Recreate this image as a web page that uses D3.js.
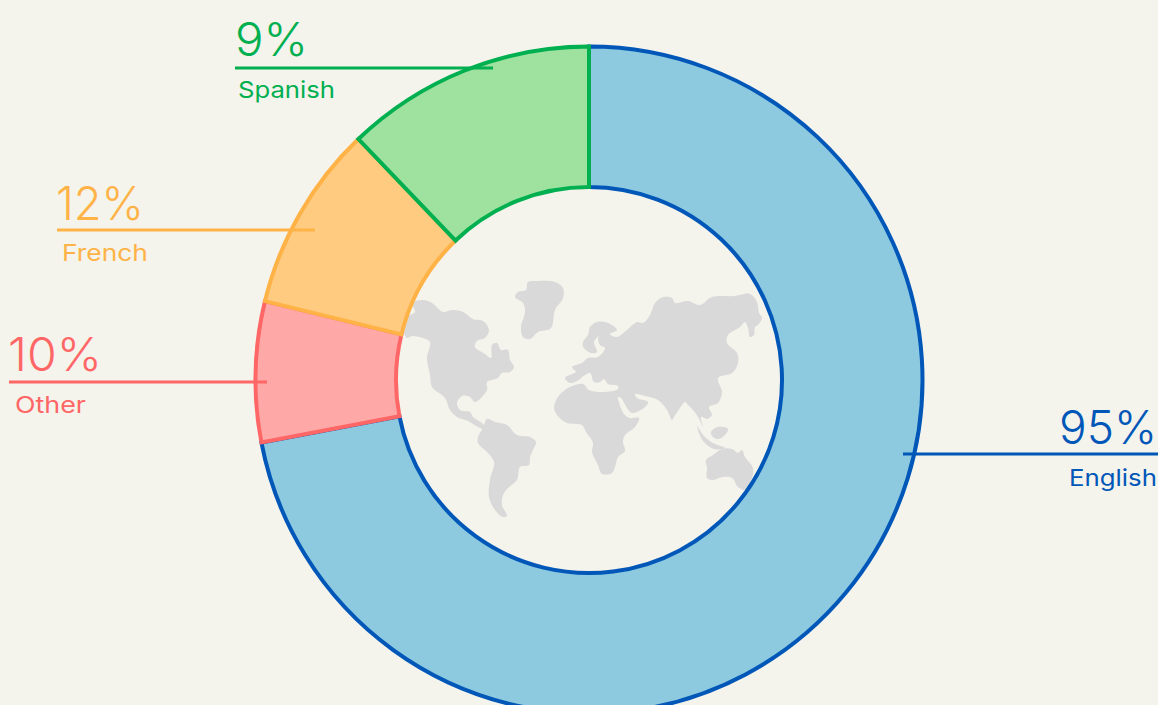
<!DOCTYPE html>
<html>
<head>
<meta charset="utf-8">
<script src="https://cdn.jsdelivr.net/npm/d3@7"></script>
<style>
  html, body { margin: 0; padding: 0; background: #f4f3ec; overflow: hidden; }
  text { font-family: Inter, "Open Sans", sans-serif; }
  .pct { font-size: 47px; font-weight: 300; }
  .name { font-size: 23px; font-weight: 400; }
</style>
</head>
<body>
<div id="chart"></div>
<script>
// slice labels and the printed numbers (the printed ones do not match the slice sizes)
var languages = ["English", "Other", "French", "Spanish"];
var printedPct = ["95%", "10%", "12%", "9%"];
// share of the ring
var shares = [72.0, 6.8, 9.05, 12.15];

var fillColors = ["#8dcae0", "#ffa8a8", "#ffcb80", "#9fe29f"];
var lineColors = ["#0057b8", "#ff6666", "#ffb347", "#00b050"];

// where each callout sits: line from x0 to x1 at y, text anchored at pctX / nameX
// pctW / nameW stretch the fallback font to the width of the original lettering
var callouts = [
    {x0: 903, x1: 1158, y: 454, pctX: 1059, pctW: 98, pctY: 444, nameX: 1069, nameW: 88, nameY: 486},
    {x0: 9, x1: 267, y: 382, pctX: 8, pctW: 94, pctY: 371, nameX: 15, nameW: 71, nameY: 413},
    {x0: 57, x1: 315, y: 230, pctX: 56, pctW: 88, pctY: 220, nameX: 62, nameW: 86, nameY: 261},
    {x0: 235, x1: 493, y: 68, pctX: 235, pctW: 73, pctY: 56, nameX: 238, nameW: 97, nameY: 98}
];

// backdrop map outlines, traced in page pixels
var land = [
    // north america, down to the isthmus
    [[412,303],[423,300],[432,303],[443,312],[452,310],[463,312],[473,319],[483,321],[489,330],[485,338],[477,341],[475,347],[485,354],[491,358],[492,345],[497,343],[501,350],[508,350],[510,360],[514,367],[510,372],[502,373],[498,378],[487,382],[487,390],[475,402],[470,397],[462,396],[457,403],[460,410],[470,412],[473,417],[482,423],[487,430],[480,428],[468,421],[457,417],[450,410],[445,398],[432,387],[430,375],[427,358],[430,342],[423,338],[412,336],[407,338],[403,327],[407,317],[415,312]],
    // greenland
    [[528,282],[538,281],[555,282],[563,288],[563,298],[555,310],[551,328],[538,332],[530,339],[523,337],[521,327],[525,312],[523,303],[515,297],[518,292],[526,290]],
    // south america
    [[487,419],[495,422],[507,425],[517,435],[530,437],[536,442],[533,450],[530,457],[529,465],[520,467],[517,480],[508,488],[503,495],[502,505],[507,516],[503,517],[495,510],[489,497],[490,480],[494,462],[487,452],[478,443],[478,437],[483,428]],
    // eurasia and africa
    [[565,378],[572,374],[576,372],[572,367],[582,363],[588,358],[598,357],[605,348],[600,345],[598,338],[600,335],[594,342],[597,352],[591,353],[583,347],[583,342],[588,335],[590,327],[597,322],[608,323],[617,330],[610,334],[617,337],[627,330],[637,322],[643,323],[650,315],[655,303],[663,297],[672,298],[675,303],[688,301],[700,305],[712,297],[735,296],[750,294],[757,302],[759,313],[762,318],[758,325],[755,327],[754,335],[750,337],[748,328],[745,322],[740,327],[728,335],[727,343],[737,353],[738,363],[732,373],[718,378],[722,392],[718,403],[709,407],[712,415],[707,419],[701,417],[703,427],[698,417],[693,410],[688,405],[685,402],[680,408],[674,417],[672,420],[667,410],[658,400],[645,396],[635,394],[637,398],[648,402],[645,407],[632,413],[627,408],[621,398],[618,397],[618,399],[624,414],[630,418],[639,418],[635,427],[625,435],[623,442],[625,451],[618,457],[615,467],[612,473],[602,474],[598,465],[592,452],[593,443],[586,432],[582,425],[567,423],[557,415],[554,407],[558,397],[565,390],[570,387],[583,384],[589,390],[603,392],[618,389],[618,386],[608,384],[604,379],[600,382],[594,382],[590,373],[585,375],[577,381],[570,383]],
    // sumatra / java
    [[697,426],[704,436],[713,443],[725,448],[714,449],[703,441]],
    // borneo
    [[711,432],[718,427],[728,429],[724,436],[718,439],[713,437]],
    // australia
    [[706,460],[713,455],[722,449],[732,449],[738,453],[742,450],[745,457],[753,468],[752,478],[745,490],[738,487],[732,478],[723,477],[713,480],[707,478],[707,468]]
];

var width = 1158,
    height = 705,
    cx = 589,
    cy = 380,
    outerR = 333.5,
    innerR = 193;

var svg = d3.select("#chart")
    .append("svg")
    .attr("width", width)
    .attr("height", height)
    .style("display", "block");

svg.append("rect")
    .attr("width", width)
    .attr("height", height)
    .attr("fill", "#f4f3ec");

var landLine = d3.line().curve(d3.curveCatmullRomClosed.alpha(0.5));

svg.append("g").selectAll("path")
    .data(land)
  .enter().append("path")
    .attr("d", function (d) { return landLine(d); })
    .attr("fill", "#d9d9d9");

var pie = d3.pie().sort(null).value(function (d) { return d; });
var arc = d3.arc().innerRadius(innerR).outerRadius(outerR);

svg.append("g")
    .attr("transform", "translate(" + cx + "," + cy + ")")
    .selectAll("path")
    .data(pie(shares))
  .enter().append("path")
    .attr("d", arc)
    .attr("fill", function (d, i) { return fillColors[i]; })
    .attr("stroke", function (d, i) { return lineColors[i]; })
    .attr("stroke-width", 4)
    .attr("stroke-linejoin", "miter");

var labels = svg.append("g").selectAll("g")
    .data(languages)
  .enter().append("g");

labels.append("line")
    .attr("x1", function (d, i) { return callouts[i].x0; })
    .attr("x2", function (d, i) { return callouts[i].x1; })
    .attr("y1", function (d, i) { return callouts[i].y; })
    .attr("y2", function (d, i) { return callouts[i].y; })
    .attr("stroke", function (d, i) { return lineColors[i]; })
    .attr("stroke-width", 3);

// scale each text horizontally so it takes the width of the original lettering
function fitText(sel, xKey, yKey, wKey) {
    sel.attr("transform", function (d, i) {
        var c = callouts[i],
            k = c[wKey] / this.getComputedTextLength();
        return "translate(" + c[xKey] + "," + c[yKey] + ") scale(" + k + ",1)";
    });
}

labels.append("text")
    .attr("class", "pct")
    .attr("fill", function (d, i) { return lineColors[i]; })
    .text(function (d, i) { return printedPct[i]; })
    .call(fitText, "pctX", "pctY", "pctW");

labels.append("text")
    .attr("class", "name")
    .attr("fill", function (d, i) { return lineColors[i]; })
    .text(function (d) { return d; })
    .call(fitText, "nameX", "nameY", "nameW");
</script>
</body>
</html>
